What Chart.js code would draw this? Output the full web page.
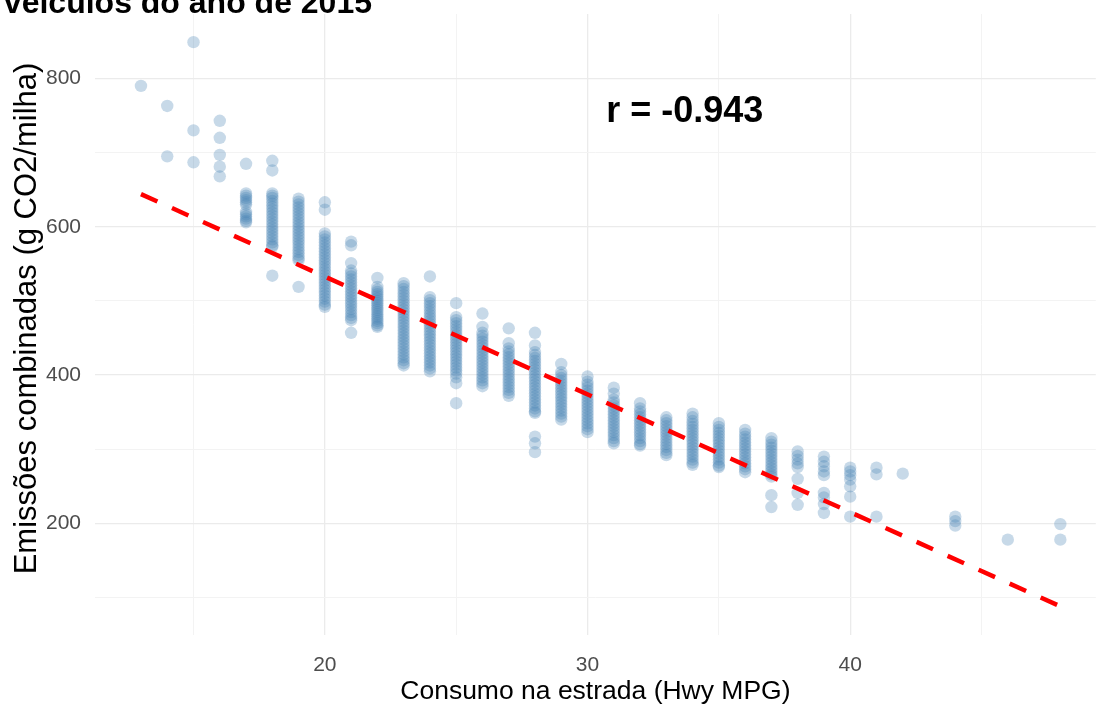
<!DOCTYPE html>
<html>
<head>
<meta charset="utf-8">
<script src="https://cdn.jsdelivr.net/npm/chart.js@4/dist/chart.umd.min.js"></script>
<style>
  body { margin: 0; background: #fff; }
  canvas { display: block; }
</style>
</head>
<body>
<canvas id="chart" width="1102" height="707"></canvas>
<script>
// Consumo na estrada (mpg) e emissões lidas em cada coluna do gráfico
const hwyMpg = [13, 14, 15, 16, 17, 18, 19, 20, 21, 22, 23, 24, 25, 26, 27, 28, 29, 30,
                31, 32, 33, 34, 35, 36, 37, 38, 39, 40, 41, 42, 44, 46, 48];
const co2Emissions = [
  [790],
  [763, 695],
  [849, 730, 687],
  [743, 720, 697, 681, 668],
  [685, 645, 642, 639, 636, 633, 630, 620, 617, 614, 611, 608, 606],
  [689, 676, 645, 642, 639, 635, 631, 627, 623, 619, 615, 611, 607, 603, 599, 595, 591, 587, 583, 579, 575, 573, 534],
  [638, 634, 630, 626, 622, 618, 614, 610, 606, 602, 598, 594, 590, 586, 582, 578, 574, 570, 566, 562, 558, 555, 519],
  [633, 623, 591, 587, 583, 579, 575, 571, 567, 563, 559, 555, 551, 547, 543, 539, 535, 531, 527, 523, 519, 515, 511, 507, 503, 499, 495, 492],
  [580, 575, 551, 541, 537, 533, 529, 525, 521, 517, 513, 509, 505, 501, 497, 493, 489, 485, 481, 477, 474, 457],
  [531, 519, 515, 512, 509, 506, 503, 500, 497, 494, 491, 488, 485, 482, 479, 476, 473, 470, 467, 465],
  [524, 520, 516, 512, 508, 504, 500, 496, 492, 488, 484, 480, 476, 472, 468, 464, 460, 456, 452, 448, 444, 440, 436, 432, 428, 424, 420, 416, 413],
  [533, 505, 501, 497, 493, 489, 485, 481, 477, 473, 469, 465, 461, 457, 453, 449, 445, 441, 437, 433, 429, 425, 421, 417, 413, 409, 405],
  [497, 478, 474, 470, 466, 462, 458, 454, 450, 446, 442, 438, 434, 430, 426, 422, 418, 414, 410, 406, 402, 397, 389, 362],
  [483, 465, 457, 453, 449, 445, 441, 437, 433, 429, 425, 421, 417, 413, 409, 405, 401, 397, 393, 389, 385],
  [463, 443, 436, 432, 428, 424, 420, 416, 412, 408, 404, 400, 396, 392, 388, 384, 380, 376, 372],
  [457, 440, 431, 427, 423, 419, 415, 411, 407, 403, 399, 395, 391, 387, 383, 379, 375, 371, 367, 363, 359, 355, 351, 349, 317, 308, 296],
  [415, 404, 400, 396, 392, 388, 384, 380, 376, 372, 368, 364, 360, 356, 352, 348, 344, 340],
  [398, 391, 387, 383, 379, 375, 371, 367, 363, 359, 355, 351, 347, 343, 339, 335, 331, 327, 323],
  [383, 375, 367, 363, 359, 355, 351, 347, 343, 339, 335, 331, 327, 323, 319, 315, 311, 308],
  [362, 355, 351, 347, 343, 339, 335, 331, 327, 323, 319, 315, 311, 307, 305],
  [343, 339, 335, 331, 327, 323, 319, 315, 311, 307, 303, 299, 295, 292],
  [348, 343, 338, 334, 330, 326, 322, 318, 314, 310, 306, 302, 298, 294, 290, 286, 282, 279],
  [335, 330, 326, 322, 318, 314, 310, 306, 302, 298, 294, 290, 286, 282, 278, 276],
  [326, 321, 317, 313, 309, 305, 301, 297, 293, 289, 285, 281, 277, 273, 269],
  [315, 310, 306, 302, 298, 294, 290, 286, 282, 278, 274, 270, 266, 263, 238, 222],
  [297, 291, 286, 281, 276, 260, 241, 225],
  [290, 283, 277, 270, 265, 241, 235, 226, 214],
  [275, 270, 265, 259, 250, 236, 209],
  [275, 266, 209],
  [267],
  [209, 203, 197],
  [178],
  [199, 178]
];

// reta de regressão (extremos)
const fitMpg = [13, 48];
const fitCo2 = [644, 88];

const xTicks = [20, 30, 40];
const yTicks = [200, 400, 600, 800];
const corrLabel = 'r = -0.943';
const titleText = 'veículos do ano de 2015';
const xTitle = 'Consumo na estrada (Hwy MPG)';
const yTitle = 'Emissões combinadas (g CO2/milha)';

const points = [];
hwyMpg.forEach((mpg, i) => {
  co2Emissions[i].forEach(v => points.push({ x: mpg, y: v }));
});

const fontFamily = '"Liberation Sans", Arial, sans-serif';

const textPlugin = {
  id: 'texts',
  afterDraw(chart) {
    const ctx = chart.ctx;
    const area = chart.chartArea;
    const xs = chart.scales.x, ys = chart.scales.y;
    ctx.save();
    ctx.fillStyle = '#000';

    // título (cortado no topo)
    ctx.font = 'bold 32px ' + fontFamily;
    ctx.textAlign = 'right';
    ctx.textBaseline = 'alphabetic';
    ctx.fillText(titleText, 372, 13);

    // anotação do coeficiente
    ctx.font = 'bold 36px ' + fontFamily;
    ctx.textAlign = 'center';
    ctx.textBaseline = 'middle';
    ctx.fillText(corrLabel, xs.getPixelForValue(33.7), ys.getPixelForValue(755));

    // títulos dos eixos
    ctx.font = '26.5px ' + fontFamily;
    ctx.fillText(xTitle, (area.left + area.right) / 2, 692);
    ctx.font = '31px ' + fontFamily;
    ctx.translate(27, (area.top + area.bottom) / 2 - 6);
    ctx.rotate(-Math.PI / 2);
    ctx.fillText(yTitle, 0, 0);
    ctx.restore();
  }
};

function gridColor(c, major) {
  return c.tick && major.includes(c.tick.value) ? '#EBEBEB' : '#F3F3F3';
}

new Chart(document.getElementById('chart'), {
  data: {
    datasets: [
      {
        type: 'line',
        data: fitMpg.map((x, i) => ({ x: x, y: fitCo2[i] })),
        borderColor: '#FF0000',
        borderWidth: 4.5,
        borderDash: [18, 16],
        pointRadius: 0,
        fill: false
      },
      {
        type: 'scatter',
        data: points,
        backgroundColor: 'rgba(70,130,180,0.3)',
        borderWidth: 0,
        pointRadius: 6.2
      }
    ]
  },
  options: {
    responsive: false,
    animation: false,
    layout: { padding: { top: 14, right: 2, left: 0, bottom: 0 } },
    plugins: { legend: { display: false }, tooltip: { enabled: false } },
    scales: {
      x: {
        type: 'linear',
        min: 11.25,
        max: 49.35,
        afterFit(s) { s.height = 72; s.paddingLeft = 0; s.paddingRight = 0; },
        afterBuildTicks(s) {
          s.ticks = s.ticks.filter(t => t.value % 5 === 0);
        },
        ticks: {
          stepSize: 5,
          padding: 18,
          color: '#4D4D4D',
          font: { family: fontFamily, size: 21 },
          callback: v => xTicks.includes(v) ? String(v) : ''
        },
        grid: {
          color: c => gridColor(c, xTicks),
          lineWidth: c => c.tick && xTicks.includes(c.tick.value) ? 1.3 : 1,
          drawTicks: false
        },
        border: { display: false }
      },
      y: {
        type: 'linear',
        min: 49.4,
        max: 887,
        afterFit(s) { s.width = 95; s.paddingTop = 0; s.paddingBottom = 0; },
        afterBuildTicks(s) {
          s.ticks = s.ticks.filter(t => t.value % 100 === 0);
        },
        ticks: {
          stepSize: 100,
          padding: 14,
          color: '#4D4D4D',
          font: { family: fontFamily, size: 21 },
          callback: v => yTicks.includes(v) ? String(v) : ''
        },
        grid: {
          color: c => gridColor(c, yTicks),
          lineWidth: c => c.tick && yTicks.includes(c.tick.value) ? 1.3 : 1,
          drawTicks: false
        },
        border: { display: false }
      }
    }
  },
  plugins: [textPlugin]
});
</script>
</body>
</html>
